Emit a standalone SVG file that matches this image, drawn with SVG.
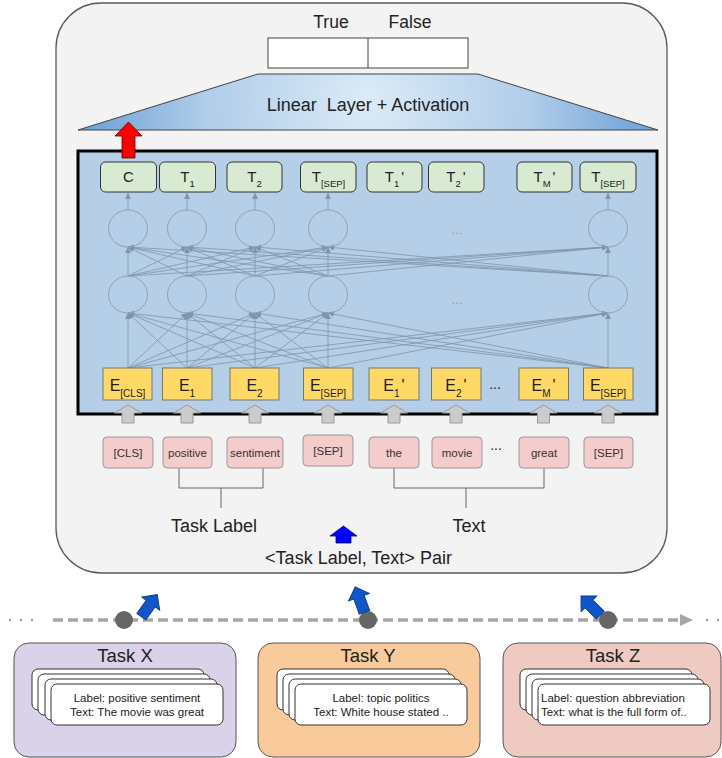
<svg xmlns="http://www.w3.org/2000/svg" width="722" height="758" viewBox="0 0 722 758">
<defs>
<style>
.t{font-family:"Liberation Sans",Arial,sans-serif;fill:#222}
.outer{fill:#f3f3f3;stroke:#5a5a5a;stroke-width:1.3}
.tbox{fill:#d9ead3;stroke:#333;stroke-width:1}
.ebox{fill:#ffd966;stroke:#777;stroke-width:1}
.tok{fill:#f4cccc;stroke:#999;stroke-width:1}
.net{stroke:#7f95aa;stroke-width:0.8;fill:none}
.neuron{fill:none;stroke:#8ea3b7;stroke-width:1}
.garrow{fill:#cccccc;stroke:#999;stroke-width:1}
.barrow{fill:#1155cc;stroke:#0b3d91;stroke-width:1}
.card{fill:#fff;stroke:#333;stroke-width:1}
.task{stroke:#555;stroke-width:1}
.br{stroke:#666;stroke-width:1;fill:none}
.tl{font-size:15px;text-anchor:middle}
.el{font-size:16px;text-anchor:middle}
.tokt{font-size:11.5px;text-anchor:middle;fill:#333}
.ct{font-size:11.5px;fill:#222}
</style>
<radialGradient id="trap" cx="368" cy="100" r="300" gradientUnits="userSpaceOnUse">
<stop offset="0" stop-color="#dcebf7"/>
<stop offset="0.55" stop-color="#afcce9"/>
<stop offset="0.97" stop-color="#6a9fd4"/>
</radialGradient>
<marker id="nh" markerUnits="userSpaceOnUse" markerWidth="6" markerHeight="6" refX="6" refY="3" orient="auto">
<path d="M0,0 L6,3 L0,6 z" fill="#7f95aa"/>
</marker>
</defs>

<g id="outer-box">
<rect class="outer" x="56" y="3" width="611" height="570" rx="45"/>
</g>

<g id="output">
<text class="t" x="331" y="28" font-size="17.5" text-anchor="middle">True</text>
<text class="t" x="410" y="28" font-size="17.5" text-anchor="middle">False</text>
<rect x="268" y="38" width="200" height="30" fill="#fff" stroke="#444" stroke-width="1"/>
<line x1="368" y1="38" x2="368" y2="68" stroke="#444" stroke-width="1"/>
</g>

<g id="linear-layer">
<polygon points="258,74 478,74 658,130 78,130" fill="url(#trap)" stroke="#444" stroke-width="1"/>
<text class="t" x="368" y="111" font-size="18" text-anchor="middle">Linear&#160; Layer + Activation</text>
</g>

<g id="bert">
<rect x="78" y="151" width="579" height="263" fill="#b4cfe7" stroke="#000" stroke-width="3"/>
</g>

<g id="connectors">
<g class="net">
<line x1="128" y1="368" x2="128" y2="313" marker-end="url(#nh)"/>
<line x1="128" y1="368" x2="187" y2="313" marker-end="url(#nh)"/>
<line x1="128" y1="368" x2="255" y2="313" marker-end="url(#nh)"/>
<line x1="128" y1="368" x2="328" y2="313" marker-end="url(#nh)"/>
<line x1="128" y1="368" x2="608" y2="313" marker-end="url(#nh)"/>
<line x1="187" y1="368" x2="128" y2="313" marker-end="url(#nh)"/>
<line x1="187" y1="368" x2="187" y2="313" marker-end="url(#nh)"/>
<line x1="187" y1="368" x2="255" y2="313" marker-end="url(#nh)"/>
<line x1="187" y1="368" x2="328" y2="313" marker-end="url(#nh)"/>
<line x1="187" y1="368" x2="608" y2="313" marker-end="url(#nh)"/>
<line x1="255" y1="368" x2="128" y2="313" marker-end="url(#nh)"/>
<line x1="255" y1="368" x2="187" y2="313" marker-end="url(#nh)"/>
<line x1="255" y1="368" x2="255" y2="313" marker-end="url(#nh)"/>
<line x1="255" y1="368" x2="328" y2="313" marker-end="url(#nh)"/>
<line x1="255" y1="368" x2="608" y2="313" marker-end="url(#nh)"/>
<line x1="328" y1="368" x2="128" y2="313" marker-end="url(#nh)"/>
<line x1="328" y1="368" x2="187" y2="313" marker-end="url(#nh)"/>
<line x1="328" y1="368" x2="255" y2="313" marker-end="url(#nh)"/>
<line x1="328" y1="368" x2="328" y2="313" marker-end="url(#nh)"/>
<line x1="328" y1="368" x2="608" y2="313" marker-end="url(#nh)"/>
<line x1="608" y1="368" x2="128" y2="313" marker-end="url(#nh)"/>
<line x1="608" y1="368" x2="187" y2="313" marker-end="url(#nh)"/>
<line x1="608" y1="368" x2="255" y2="313" marker-end="url(#nh)"/>
<line x1="608" y1="368" x2="328" y2="313" marker-end="url(#nh)"/>
<line x1="608" y1="368" x2="608" y2="313" marker-end="url(#nh)"/>

<line x1="128" y1="276" x2="128" y2="247" marker-end="url(#nh)"/>
<line x1="128" y1="276" x2="187" y2="247" marker-end="url(#nh)"/>
<line x1="128" y1="276" x2="255" y2="247" marker-end="url(#nh)"/>
<line x1="128" y1="276" x2="328" y2="247" marker-end="url(#nh)"/>
<line x1="128" y1="276" x2="608" y2="247" marker-end="url(#nh)"/>
<line x1="187" y1="276" x2="128" y2="247" marker-end="url(#nh)"/>
<line x1="187" y1="276" x2="187" y2="247" marker-end="url(#nh)"/>
<line x1="187" y1="276" x2="255" y2="247" marker-end="url(#nh)"/>
<line x1="187" y1="276" x2="328" y2="247" marker-end="url(#nh)"/>
<line x1="187" y1="276" x2="608" y2="247" marker-end="url(#nh)"/>
<line x1="255" y1="276" x2="128" y2="247" marker-end="url(#nh)"/>
<line x1="255" y1="276" x2="187" y2="247" marker-end="url(#nh)"/>
<line x1="255" y1="276" x2="255" y2="247" marker-end="url(#nh)"/>
<line x1="255" y1="276" x2="328" y2="247" marker-end="url(#nh)"/>
<line x1="255" y1="276" x2="608" y2="247" marker-end="url(#nh)"/>
<line x1="328" y1="276" x2="128" y2="247" marker-end="url(#nh)"/>
<line x1="328" y1="276" x2="187" y2="247" marker-end="url(#nh)"/>
<line x1="328" y1="276" x2="255" y2="247" marker-end="url(#nh)"/>
<line x1="328" y1="276" x2="328" y2="247" marker-end="url(#nh)"/>
<line x1="328" y1="276" x2="608" y2="247" marker-end="url(#nh)"/>
<line x1="608" y1="276" x2="128" y2="247" marker-end="url(#nh)"/>
<line x1="608" y1="276" x2="187" y2="247" marker-end="url(#nh)"/>
<line x1="608" y1="276" x2="255" y2="247" marker-end="url(#nh)"/>
<line x1="608" y1="276" x2="328" y2="247" marker-end="url(#nh)"/>
<line x1="608" y1="276" x2="608" y2="247" marker-end="url(#nh)"/>

<line x1="128" y1="210" x2="128" y2="193" marker-end="url(#nh)"/>
<line x1="187" y1="210" x2="187" y2="193" marker-end="url(#nh)"/>
<line x1="255" y1="210" x2="255" y2="193" marker-end="url(#nh)"/>
<line x1="328" y1="210" x2="328" y2="193" marker-end="url(#nh)"/>
<line x1="608" y1="210" x2="608" y2="193" marker-end="url(#nh)"/>
</g>
<g class="br">
<polyline points="179,468 179,488 263,488 263,468"/>
<line x1="221" y1="488" x2="221" y2="508"/>
<polyline points="394,468 394,488 544,488 544,468"/>
<line x1="466" y1="488" x2="466" y2="508"/>
</g>
<g id="red-arrow">
<path d="M128.5,122 L142,136 L135,136 L135,158 L122,158 L122,136 L115,136 Z" fill="#ff0000" stroke="#5a0000" stroke-width="0.8"/>
</g>
<g id="input-arrows" class="garrow">
<path d="M128,405 L141.5,413 L134,413 L134,423 L122,423 L122,413 L114.5,413 Z"/>
<path d="M187,405 L200.5,413 L193,413 L193,423 L181,423 L181,413 L173.5,413 Z"/>
<path d="M255,405 L268.5,413 L261,413 L261,423 L249,423 L249,413 L241.5,413 Z"/>
<path d="M328,405 L341.5,413 L334,413 L334,423 L322,423 L322,413 L314.5,413 Z"/>
<path d="M394,405 L407.5,413 L400,413 L400,423 L388,423 L388,413 L380.5,413 Z"/>
<path d="M456,405 L469.5,413 L462,413 L462,423 L450,423 L450,413 L442.5,413 Z"/>
<path d="M543.5,405 L557,413 L549.5,413 L549.5,423 L537.5,423 L537.5,413 L530,413 Z"/>
<path d="M608,405 L621.5,413 L614,413 L614,423 L602,423 L602,413 L594.5,413 Z"/>
</g>
<g id="pair-arrow">
<path d="M343.5,526 L357,536 L351,536 L351,543 L336,543 L336,536 L330,536 Z" fill="#0000ff" stroke="#000080" stroke-width="0.8"/>
</g>
<g id="timeline">
<line x1="53" y1="620" x2="681" y2="620" stroke="#a6a6a6" stroke-width="3.5" stroke-dasharray="10 5"/>
<path d="M680,614 L693,620 L680,626 Z" fill="#a6a6a6"/>
<g fill="#999">
<circle cx="10" cy="620" r="1.2"/><circle cx="21" cy="620" r="1.2"/><circle cx="32" cy="620" r="1.2"/>
<circle cx="707" cy="620" r="1.2"/><circle cx="718" cy="620" r="1.2"/>
</g>
<g fill="#666">
<circle cx="124" cy="620" r="9"/>
<circle cx="368" cy="620" r="9"/>
<circle cx="608" cy="620" r="9"/>
</g>
<g class="barrow">
<path transform="translate(149,606) rotate(36)" d="M0,-14 L11,-3 L5.5,-3 L5.5,13 L-5.5,13 L-5.5,-3 L-11,-3 Z"/>
<path transform="translate(360,600) rotate(-20)" d="M0,-14 L11,-3 L5.5,-3 L5.5,13 L-5.5,13 L-5.5,-3 L-11,-3 Z"/>
<path transform="translate(591,606) rotate(-45)" d="M0,-14 L11,-3 L5.5,-3 L5.5,13 L-5.5,13 L-5.5,-3 L-11,-3 Z"/>
</g>
</g>
</g>

<g id="neurons" class="neuron">
<ellipse cx="128" cy="228.5" rx="19.5" ry="18.5"/>
<ellipse cx="187" cy="228.5" rx="19.5" ry="18.5"/>
<ellipse cx="255" cy="228.5" rx="19.5" ry="18.5"/>
<ellipse cx="328" cy="228.5" rx="19.5" ry="18.5"/>
<ellipse cx="608" cy="228.5" rx="19.5" ry="18.5"/>
<ellipse cx="128" cy="294.5" rx="19.5" ry="18.5"/>
<ellipse cx="187" cy="294.5" rx="19.5" ry="18.5"/>
<ellipse cx="255" cy="294.5" rx="19.5" ry="18.5"/>
<ellipse cx="328" cy="294.5" rx="19.5" ry="18.5"/>
<ellipse cx="608" cy="294.5" rx="19.5" ry="18.5"/>
</g>
<text class="t" x="457" y="234" font-size="13" text-anchor="middle" style="fill:#8ea3b7">...</text>
<text class="t" x="457" y="304" font-size="13" text-anchor="middle" style="fill:#8ea3b7">...</text>

<g id="t-c"><rect class="tbox" x="100.5" y="162" width="56" height="30" rx="5"/><text class="t tl" x="128.5" y="182">C</text></g>
<g id="t-1"><rect class="tbox" x="159.5" y="162" width="56" height="30" rx="5"/><text class="t tl" x="187.5" y="182">T<tspan font-size="9.5" dy="4.5">1</tspan></text></g>
<g id="t-2"><rect class="tbox" x="227" y="162" width="55" height="30" rx="5"/><text class="t tl" x="254.5" y="182">T<tspan font-size="9.5" dy="4.5">2</tspan></text></g>
<g id="t-sep1"><rect class="tbox" x="300.5" y="162" width="55.5" height="30" rx="5"/><text class="t tl" x="328.5" y="182">T<tspan font-size="9.5" dy="4.5">[SEP]</tspan></text></g>
<g id="t-1p"><rect class="tbox" x="367" y="162" width="55" height="30" rx="5"/><text class="t tl" x="394.5" y="182">T<tspan font-size="9.5" dy="4.5">1</tspan><tspan dx="2" dy="-4.5">'</tspan></text></g>
<g id="t-2p"><rect class="tbox" x="428.5" y="162" width="55.5" height="30" rx="5"/><text class="t tl" x="456" y="182">T<tspan font-size="9.5" dy="4.5">2</tspan><tspan dx="2" dy="-4.5">'</tspan></text></g>
<g id="t-mp"><rect class="tbox" x="517" y="162" width="55" height="30" rx="5"/><text class="t tl" x="544.5" y="182">T<tspan font-size="9.5" dy="4.5">M</tspan><tspan dx="2" dy="-4.5">'</tspan></text></g>
<g id="t-sep2"><rect class="tbox" x="580" y="162" width="56" height="30" rx="5"/><text class="t tl" x="608" y="182">T<tspan font-size="9.5" dy="4.5">[SEP]</tspan></text></g>

<g id="e-cls"><rect class="ebox" x="103" y="368" width="49" height="32"/><text class="t el" x="127.5" y="391">E<tspan font-size="10" dy="6">[CLS]</tspan></text></g>
<g id="e-1"><rect class="ebox" x="162.5" y="368" width="49.5" height="32"/><text class="t el" x="187" y="391">E<tspan font-size="10" dy="6">1</tspan></text></g>
<g id="e-2"><rect class="ebox" x="230" y="368" width="49" height="32"/><text class="t el" x="254.5" y="391">E<tspan font-size="10" dy="6">2</tspan></text></g>
<g id="e-sep1"><rect class="ebox" x="303.5" y="368" width="49.5" height="32"/><text class="t el" x="328" y="391">E<tspan font-size="10" dy="6">[SEP]</tspan></text></g>
<g id="e-1p"><rect class="ebox" x="369" y="368" width="50" height="32"/><text class="t el" x="394" y="391">E<tspan font-size="10" dy="6">1</tspan><tspan dx="2" dy="-6">'</tspan></text></g>
<g id="e-2p"><rect class="ebox" x="431.5" y="368" width="49.5" height="32"/><text class="t el" x="456" y="391">E<tspan font-size="10" dy="6">2</tspan><tspan dx="2" dy="-6">'</tspan></text></g>
<text class="t" x="495" y="389" font-size="14" text-anchor="middle">...</text>
<g id="e-mp"><rect class="ebox" x="519" y="368" width="49.5" height="32"/><text class="t el" x="543.5" y="391">E<tspan font-size="10" dy="6">M</tspan><tspan dx="2" dy="-6">'</tspan></text></g>
<g id="e-sep2"><rect class="ebox" x="583.5" y="368" width="49.5" height="32"/><text class="t el" x="608" y="391">E<tspan font-size="10" dy="6">[SEP]</tspan></text></g>

<g id="tok-cls"><rect class="tok" x="103" y="437" width="50" height="31" rx="4"/><text class="t tokt" x="128" y="457">[CLS]</text></g>
<g id="tok-positive"><rect class="tok" x="163" y="437" width="49" height="31" rx="4"/><text class="t tokt" x="187.5" y="457">positive</text></g>
<g id="tok-sentiment"><rect class="tok" x="227" y="437" width="56" height="31" rx="4"/><text class="t tokt" x="255" y="457">sentiment</text></g>
<g id="tok-sep1"><rect class="tok" x="303" y="435" width="50" height="31" rx="4"/><text class="t tokt" x="328" y="455">[SEP]</text></g>
<g id="tok-the"><rect class="tok" x="369" y="437" width="50" height="31" rx="4"/><text class="t tokt" x="394" y="457">the</text></g>
<g id="tok-movie"><rect class="tok" x="432" y="437" width="50" height="31" rx="4"/><text class="t tokt" x="457" y="457">movie</text></g>
<text class="t" x="496" y="450" font-size="14" text-anchor="middle">...</text>
<g id="tok-great"><rect class="tok" x="519" y="437" width="50" height="31" rx="4"/><text class="t tokt" x="544" y="457">great</text></g>
<g id="tok-sep2"><rect class="tok" x="584" y="437" width="49" height="31" rx="4"/><text class="t tokt" x="608.5" y="457">[SEP]</text></g>

<g id="labels">
<text class="t" x="214" y="532" font-size="18" text-anchor="middle">Task Label</text>
<text class="t" x="469" y="532" font-size="18" text-anchor="middle">Text</text>
<text class="t" x="358.5" y="564" font-size="18" text-anchor="middle">&lt;Task Label, Text&gt; Pair</text>
</g>

<g id="task-x">
<rect class="task" x="14" y="643" width="222" height="114" rx="15" fill="#d9d2e9"/>
<text class="t" x="125" y="662" font-size="18.5" text-anchor="middle">Task X</text>
<rect class="card" x="32" y="669" width="172" height="41" rx="6"/>
<rect class="card" x="38" y="674" width="172" height="41" rx="6"/>
<rect class="card" x="45" y="679" width="172" height="41" rx="6"/>
<rect class="card" x="51" y="684" width="172" height="41" rx="6"/>
<text class="t ct" x="137" y="702" text-anchor="middle">Label: positive sentiment</text>
<text class="t ct" x="137" y="716" text-anchor="middle">Text: The movie was great</text>
</g>
<g id="task-y">
<rect class="task" x="258" y="643" width="222" height="114" rx="15" fill="#f9cb9c"/>
<text class="t" x="368" y="662" font-size="18.5" text-anchor="middle">Task Y</text>
<rect class="card" x="277" y="669" width="172" height="41" rx="6"/>
<rect class="card" x="283" y="674" width="172" height="41" rx="6"/>
<rect class="card" x="289" y="679" width="172" height="41" rx="6"/>
<rect class="card" x="295" y="684" width="172" height="41" rx="6"/>
<text class="t ct" x="381" y="702" text-anchor="middle">Label: topic politics</text>
<text class="t ct" x="381" y="716" text-anchor="middle">Text: White house stated ..</text>
</g>
<g id="task-z">
<rect class="task" x="503" y="643" width="218" height="114" rx="15" fill="#efcac3"/>
<text class="t" x="613" y="662" font-size="18.5" text-anchor="middle">Task Z</text>
<rect class="card" x="520" y="669" width="172" height="41" rx="6"/>
<rect class="card" x="526" y="674" width="172" height="41" rx="6"/>
<rect class="card" x="532" y="679" width="172" height="41" rx="6"/>
<rect class="card" x="538" y="684" width="172" height="41" rx="6"/>
<text class="t ct" x="541" y="702">Label: question abbreviation</text>
<text class="t ct" x="541" y="716">Text: what is the full form of..</text>
</g>
</svg>
